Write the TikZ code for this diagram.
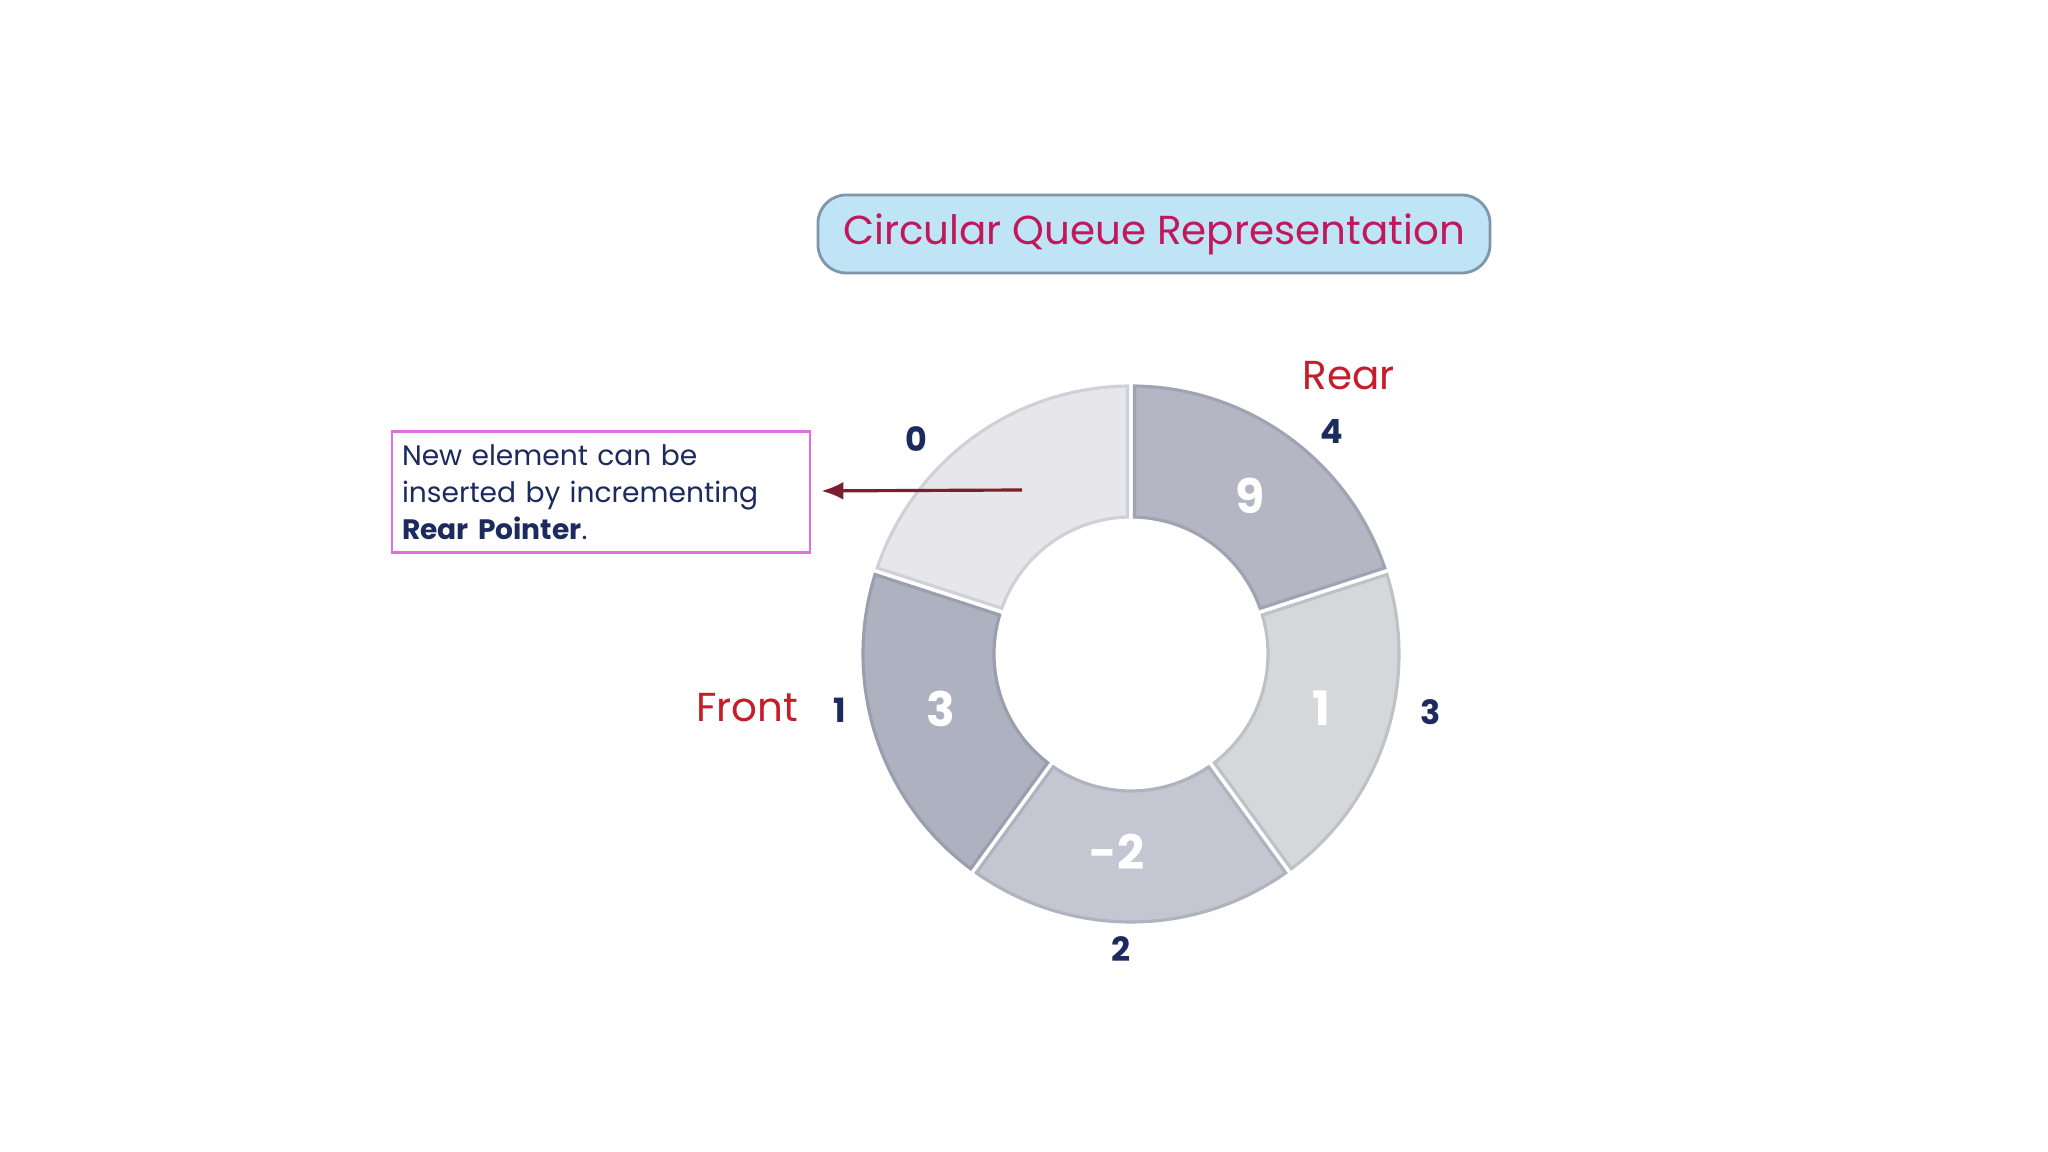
\documentclass[tikz,border=0pt]{standalone}
\usepackage{fontspec}
\setmainfont{Poppins}
\usetikzlibrary{arrows.meta, positioning}

\definecolor{titlefill}{HTML}{BEE4F6}
\definecolor{titleedge}{HTML}{7F97A8}
\definecolor{titletext}{HTML}{C2185B}
\definecolor{noteedge}{HTML}{E070E0}
\definecolor{navy}{HTML}{1C2A5E}
\definecolor{ptrred}{HTML}{C41E2A}
\definecolor{arrowred}{HTML}{7B1E2E}
\definecolor{seg0}{HTML}{E7E7EB}\definecolor{edge0}{HTML}{D0D1D6}
\definecolor{seg1}{HTML}{AEB1BF}\definecolor{edge1}{HTML}{9B9EAD}
\definecolor{seg2}{HTML}{C4C7D1}\definecolor{edge2}{HTML}{AFB3BF}
\definecolor{seg3}{HTML}{D6D7DB}\definecolor{edge3}{HTML}{BFC1C7}
\definecolor{seg4}{HTML}{B4B6C3}\definecolor{edge4}{HTML}{A0A3B1}

\begin{document}
\begin{tikzpicture}[
		titlebox/.style={draw=titleedge, fill=titlefill, thick, rounded corners=8pt, minimum width=6.72cm, minimum height=0.78cm, text=titletext, font=\fontsize{11.5}{12}\selectfont},
		notebox/.style={draw=noteedge, thick, align=left, text width=3.98cm, inner sep=0.1cm, minimum height=1.21cm, text=navy, font=\fontsize{8}{10.5}\selectfont},
		idx/.style={text=navy, font=\bfseries\fontsize{9.5}{10}\selectfont},
		val/.style={text=white, font=\bfseries\fontsize{13.5}{14}\selectfont},
		ptr/.style={text=ptrred, font=\fontsize{11.5}{12}\selectfont}
	]
	
	\useasboundingbox[fill=white] (0,0) rectangle (20.48,11.52);
	
	% Title
	\node[titlebox] (title) at (11.54, 9.18) {Circular Queue Representation};
	
	% Ring
	\coordinate (ring) at (11.31, 4.98);
	\def\Ro{2.68}
	\def\Ri{1.37}
	\foreach \i/\ang/\va/\val/\ia/\ir in {0/90/126//135/3.04, 1/162/196/3/191/2.97, 2/234/266/-2/268/2.95, 3/306/344/1/349/3.05, 4/378/413/9/48/3.0} {
		\pgfmathsetmacro\a{\ang+0.75}
		\pgfmathsetmacro\b{\ang+72-0.75}
		\pgfmathsetmacro\c{\ang+72-1.46}
		\pgfmathsetmacro\d{\ang+1.46}
		\filldraw[fill=seg\i, draw=edge\i, line width=0.9pt] ([shift={(\a:\Ro)}]ring) arc[start angle=\a, end angle=\b, radius=\Ro] -- ([shift={(\c:\Ri)}]ring) arc[start angle=\c, end angle=\d, radius=\Ri] -- cycle;
		\node[val] (v\i) at ([shift={(\va:1.98)}]ring) {\val};
		\node[idx] (i\i) at ([shift={(\ia:\ir)}]ring) {\i};
	}
	
	% Pointers
	\node[ptr] (front) at (7.47, 4.44) {Front};
	\node[ptr] (rear) at (13.49, 7.76) {Rear};
	
	% Note and arrow
	\node[notebox] (note) at (6.01, 6.6) {New element can be\\inserted by incrementing\\\textbf{Rear Pointer}.};
	\coordinate (tail) at (10.22, 6.62);
	\draw[-{Latex[length=2.2mm, width=1.8mm]}, line width=0.9pt, arrowred, shorten >=0.1cm] (tail) -- (note);
	
\end{tikzpicture}
\end{document}
